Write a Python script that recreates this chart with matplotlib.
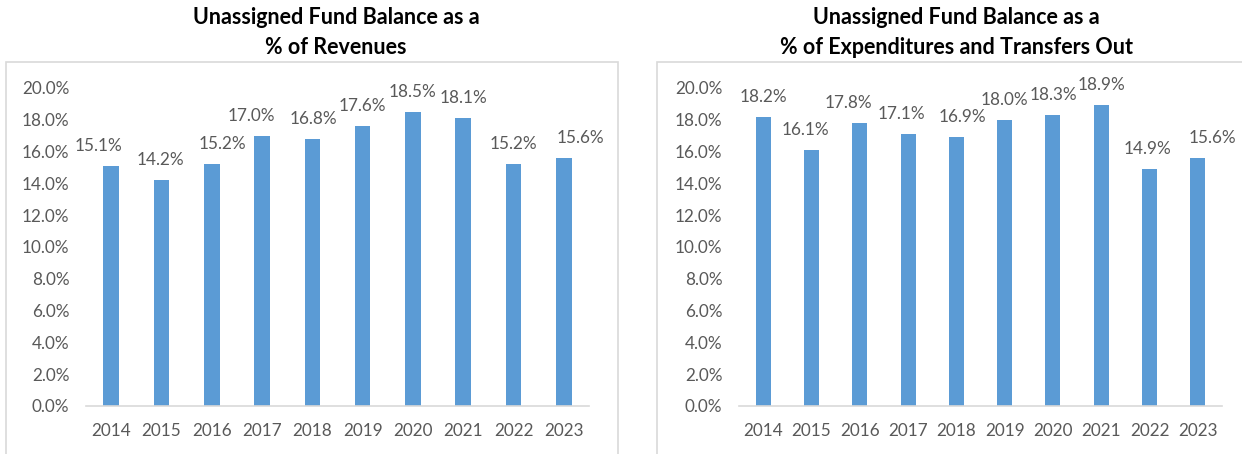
import matplotlib
matplotlib.use("Agg")
import matplotlib.pyplot as plt
from matplotlib.patches import Rectangle
from matplotlib.ticker import FuncFormatter, MultipleLocator
import numpy as np

plt.rcParams.update({"font.family": ["Lato", "DejaVu Sans"]})

YEARS = ["2014", "2015", "2016", "2017", "2018", "2019", "2020", "2021", "2022", "2023"]
PCT_REVENUES = [15.1, 14.2, 15.2, 17.0, 16.8, 17.6, 18.5, 18.1, 15.2, 15.6]
PCT_EXPENDITURES = [18.2, 16.1, 17.8, 17.1, 16.9, 18.0, 18.3, 18.9, 14.9, 15.6]
TITLES = ["Unassigned Fund Balance as a\n% of Revenues",
          "Unassigned Fund Balance as a\n% of Expenditures and Transfers Out"]

# horizontal nudges (px) of the data labels, as placed in the original
NUDGE_REV = [-13, -1, 11, -11, 1, 0, 0, 0, 0, 17]
NUDGE_EXP = [0, -6, -11, -7, 6, 0, 0, 0, -2, 15]

BAR = "#5B9BD5"
TXT = "#595959"
GRID = "#D9D9D9"
W, H = 1242, 454
PX = 72 / 100  # points per pixel


def fx(px):
    return px / W


def fy(py):
    return 1 - py / H


def panel(fig, rect, vals, nudges, title, title_x):
    ax = fig.add_axes(rect)
    x = np.arange(len(vals))
    ax.bar(x, vals, 0.31, color=BAR, zorder=2)
    for xi, v, dx in zip(x, vals, nudges):
        ax.annotate(f"{v:.1f}%", (xi, v), xytext=(dx * PX, 20 * PX),
                    textcoords="offset points", ha="center", va="center",
                    fontsize=12.3, color=TXT)
    ax.set_xlim(-0.5, len(vals) - 0.5)
    ax.set_ylim(0, 20)
    ax.yaxis.set_major_locator(MultipleLocator(2))
    ax.yaxis.set_major_formatter(FuncFormatter(lambda v, p: f"{v:.1f}%"))
    ax.set_xticks(x)
    ax.set_xticklabels(YEARS)
    ax.tick_params(axis="both", length=0, labelsize=12.3, labelcolor=TXT)
    ax.tick_params(axis="x", pad=12)
    ax.tick_params(axis="y", pad=12)
    for s in ("top", "right", "left"):
        ax.spines[s].set_visible(False)
    ax.spines["bottom"].set_color(GRID)
    ax.spines["bottom"].set_linewidth(1.2)
    ax.patch.set_alpha(0)
    line1, line2 = title.split("\n")
    fig.text(title_x, fy(17), line1, ha="center", va="center",
             fontsize=15.5, fontweight="bold", color="black")
    fig.text(title_x, fy(48), line2, ha="center", va="center",
             fontsize=15.5, fontweight="bold", color="black")
    return ax


def main():
    fig = plt.figure(figsize=(W / 100, H / 100), dpi=100)
    fig.patch.set_facecolor("white")
    # outer chart boxes (bottom / right edges run off the picture)
    for x0, x1 in ((6, 618), (657, 1260)):
        fig.add_artist(Rectangle((fx(x0), fy(470)), fx(x1 - x0), (470 - 62) / H,
                                 transform=fig.transFigure, fill=False,
                                 edgecolor=GRID, lw=1.2))
    bottom = fy(406)
    height = (406 - 88) / H
    panel(fig, [fx(86), bottom, fx(589 - 86), height], PCT_REVENUES, NUDGE_REV,
          TITLES[0], fx(336))
    panel(fig, [fx(739), bottom, fx(1222 - 739), height], PCT_EXPENDITURES, NUDGE_EXP,
          TITLES[1], fx(956))
    fig.savefig("out.png", dpi=100)
    plt.close(fig)


if __name__ == "__main__":
    main()
